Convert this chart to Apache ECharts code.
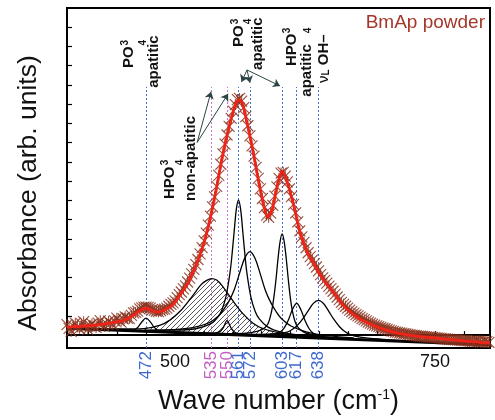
<!DOCTYPE html>
<html><head><meta charset="utf-8">
<script src="https://cdn.jsdelivr.net/npm/echarts@6/dist/echarts.min.js"></script>
<style>html,body{margin:0;padding:0;background:#fff}#c{width:495px;height:420px}</style>
</head><body><div id="c"></div>
<script>
// ---------------- data ----------------
const xTickValues = [416.67,444.44,472.22,500,527.78,555.56,583.33,611.11,638.89,666.67,694.44,722.22,750,777.78];
const xLabelValues = [500, 750];
const bandPositions = [472, 535, 550, 561, 572, 603, 617, 638];
const bandNonApatitic = [535, 550];
const yTickValues = [0,1,2,3,4,5,6,7,8,9,10,11,12,13,14,15,16];

// measured spectrum (wave number, absorbance)
const measured = [[396,0.55],[398,0.35],[400,0.20],[402,0.48],[404,0.62],[406,0.42],[408,0.35],[410,0.58],[412,0.70],[414,0.45],[416,0.30],[418,0.50],[420,0.58],[422,0.46],[424,0.40],[426,0.62],[428,0.75],[430,0.55],[432,0.45],[434,0.60],[436,0.72],[438,0.62],[440,0.55],[442,0.74],[444,0.88],[446,0.76],[448,0.68],[450,0.85],[452,0.95],[454,0.88],[456,0.86],[458,1.02],[460,1.15],[462,1.18],[464,1.25],[466,1.36],[468,1.42],[470,1.46],[472,1.45],[474,1.44],[476,1.40],[478,1.33],[480,1.28],[482,1.24],[484,1.22],[486,1.27],[488,1.33],[490,1.35],[492,1.40],[494,1.50],[496,1.60],[498,1.68],[500,1.78],[502,1.95],[504,2.10],[506,2.24],[508,2.40],[510,2.56],[512,2.76],[514,2.96],[516,3.18],[518,3.42],[520,3.66],[522,3.93],[524,4.22],[526,4.55],[528,4.90],[530,5.30],[532,5.72],[534,6.18],[536,6.66],[538,7.18],[540,7.73],[542,8.30],[544,8.88],[546,9.42],[548,9.92],[550,10.40],[552,10.85],[554,11.26],[556,11.64],[558,11.98],[560,12.24],[562,12.30],[564,12.16],[566,11.82],[568,11.36],[570,10.88],[572,10.36],[574,9.84],[576,9.30],[578,8.72],[580,8.14],[582,7.60],[584,7.10],[586,6.62],[588,6.24],[590,6.12],[592,6.34],[594,6.74],[596,7.22],[598,7.70],[600,8.14],[602,8.42],[604,8.46],[606,8.26],[608,7.96],[610,7.60],[612,7.20],[614,6.80],[616,6.35],[618,5.88],[620,5.42],[622,5.10],[624,4.82],[626,4.54],[628,4.28],[630,4.08],[632,3.90],[634,3.72],[636,3.54],[638,3.34],[640,3.14],[642,2.98],[644,2.84],[646,2.70],[648,2.55],[650,2.42],[652,2.28],[654,2.13],[656,1.98],[658,1.84],[660,1.70],[662,1.60],[664,1.50],[666,1.40],[668,1.30],[670,1.22],[672,1.14],[674,1.07],[676,1.00],[678,0.93],[680,0.86],[682,0.80],[684,0.74],[686,0.68],[688,0.62],[690,0.57],[692,0.52],[694,0.48],[696,0.44],[698,0.40],[700,0.36],[702,0.33],[704,0.30],[706,0.26],[708,0.22],[710,0.19],[712,0.16],[714,0.14],[716,0.12],[718,0.10],[720,0.08],[722,0.06],[724,0.04],[726,0.02],[728,0.00],[730,-0.02],[732,-0.03],[734,-0.05],[736,-0.06],[738,-0.07],[740,-0.08],[742,-0.09],[744,-0.10],[746,-0.11],[748,-0.12],[750,-0.13],[752,-0.14],[754,-0.16],[756,-0.17],[758,-0.19],[760,-0.20],[762,-0.21],[764,-0.22],[766,-0.23],[768,-0.24],[770,-0.25],[772,-0.25],[774,-0.26],[776,-0.27],[778,-0.28],[780,-0.29],[782,-0.30],[784,-0.31],[786,-0.32],[788,-0.33],[790,-0.30],[792,-0.32],[794,-0.37],[796,-0.36],[798,-0.31],[800,-0.34],[802,-0.38]];

const fitCurve = [[396,0.41],[410,0.46],[420,0.50],[430,0.56],[440,0.65],[450,0.77],[458,0.95],[464,1.19],[468,1.32],[472,1.39],[476,1.34],[480,1.21],[485,1.21],[490,1.32],[495,1.47],[500,1.73],[505,2.12],[510,2.48],[515,3.02],[520,3.61],[525,4.34],[530,5.21],[535,6.35],[540,7.69],[545,9.14],[550,10.37],[555,11.46],[559,12.10],[562,12.23],[565,12.00],[570,10.84],[575,9.55],[580,8.10],[585,6.81],[589,6.14],[593,6.45],[597,7.43],[600,8.10],[603,8.52],[607,8.10],[611,7.38],[615,6.55],[620,5.37],[627,4.34],[634,3.66],[640,3.10],[647,2.58],[653,2.17],[660,1.65],[667,1.26],[675,0.93],[682,0.72],[690,0.52],[700,0.31],[712,0.13],[725,0.00],[738,-0.09],[750,-0.15],[765,-0.24],[780,-0.31],[795,-0.39],[803,-0.41]];

const baseLine = [[396,0.36],[650,-0.18],[803,-0.50]];
const peak472 = [[440,0.28],[452,0.26],[460,0.27],[464,0.40],[468,0.68],[472,0.88],[476,0.70],[480,0.40],[484,0.23],[492,0.17],[510,0.13],[540,0.07]];
const peak535 = [[396,0.36],[420,0.34],[450,0.32],[470,0.34],[485,0.50],[495,0.78],[505,1.25],[515,1.91],[525,2.62],[530,2.83],[535,2.94],[540,2.86],[545,2.58],[555,1.83],[565,1.13],[575,0.62],[585,0.33],[600,0.12],[620,-0.03],[650,-0.18]];
const peak550 = [[530,0.08],[538,0.10],[543,0.18],[546,0.36],[548,0.58],[550,0.77],[552,0.58],[554,0.36],[557,0.16],[562,0.06],[575,-0.01]];
const peak561 = [[470,0.26],[500,0.26],[520,0.33],[535,0.61],[541,0.92],[545,1.31],[549,2.01],[553,3.31],[555,4.31],[557,5.48],[559,6.57],[561,7.02],[563,6.56],[565,5.46],[567,4.28],[569,3.27],[573,1.96],[577,1.24],[581,0.84],[589,0.43],[600,0.18],[620,0.00],[660,-0.15]];
const peak572 = [[477,0.25],[497,0.28],[517,0.39],[532,0.63],[542,1.01],[547,1.35],[552,1.78],[557,2.37],[562,3.21],[567,4.00],[572,4.34],[577,3.98],[582,3.17],[587,2.31],[592,1.70],[597,1.24],[602,0.88],[612,0.46],[627,0.16],[647,-0.03],[672,-0.15]];
const peak603 = [[540,0.09],[558,0.08],[573,0.13],[583,0.27],[589,0.55],[593,1.28],[595,1.95],[597,2.85],[599,3.95],[601,4.85],[603,5.26],[605,4.85],[607,3.95],[609,2.85],[611,1.90],[613,1.22],[617,0.50],[623,0.18],[633,0.00],[648,-0.11],[680,-0.22]];
const peak617 = [[577,0.01],[593,0.04],[601,0.16],[605,0.38],[609,0.79],[613,1.34],[617,1.65],[621,1.32],[625,0.76],[629,0.33],[633,0.09],[641,-0.07],[657,-0.16]];
const peak638 = [[548,0.07],[578,0.04],[598,0.07],[608,0.16],[613,0.30],[618,0.53],[623,0.86],[628,1.26],[633,1.65],[638,1.81],[643,1.63],[648,1.22],[653,0.80],[658,0.45],[663,0.20],[668,0.04],[678,-0.10],[698,-0.21],[728,-0.31]];

// ---------------- chart ----------------
const FONT = '"Liberation Sans", Arial, sans-serif';
const X_MIN = 396, X_MAX = 803, Y_MIN = -0.67, Y_MAX = 17;
const LINE_TOP = 12.9;

function makeHatch(){
  const c = document.createElement('canvas'); c.width = 5; c.height = 5;
  const g = c.getContext('2d');
  g.strokeStyle = '#2a2a2a'; g.lineWidth = 0.8;
  g.beginPath();
  g.moveTo(0,5); g.lineTo(5,0);
  g.moveTo(-1,1); g.lineTo(1,-1);
  g.moveTo(4,6); g.lineTo(6,4);
  g.stroke();
  return c;
}
const hatch = makeHatch();
const hatchedPeaks = [peak535, peak550];

const chart = echarts.init(document.getElementById('c'), null, {renderer:'canvas'});
const blue = '#4470d6', magenta = '#cf74cf';

const compSeries = [peak472, peak535, peak550, peak561, peak572, peak603, peak617, peak638].map(p => ({
  type:'line', data:p, smooth:0.35, symbol:'none', z:3,
  lineStyle:{color:'#000', width:1.3}, silent:true
}));

const option = {
  animation:false,
  textStyle:{fontFamily:FONT},
  title:{text:'BmAp powder', right:5, top:8,
    textStyle:{fontSize:19, fontWeight:'normal', color:'#a5372a', fontFamily:FONT}},
  grid:{left:67, right:5, top:8, bottom:70, show:true, borderColor:'#000', borderWidth:2},
  xAxis:[{
    type:'value', min:X_MIN, max:X_MAX, position:'bottom',
    axisLine:{show:true, lineStyle:{color:'#000', width:2}},
    axisTick:{show:true, inside:true, length:4, customValues:xTickValues, lineStyle:{color:'#000', width:1.2}},
    axisLabel:{show:true, customValues:xLabelValues, fontSize:18, color:'#111', margin:5, fontFamily:FONT},
    splitLine:{show:false},
    name:'{a|Wave number (cm}{s|-1}{a|)}', nameLocation:'middle', nameGap:40,
    nameTextStyle:{rich:{a:{fontSize:27, color:'#111', fontFamily:FONT}, s:{fontSize:14, color:'#111', verticalAlign:'top', fontFamily:FONT}}}
  },{
    type:'value', min:X_MIN, max:X_MAX, position:'bottom',
    axisLine:{show:false}, axisTick:{show:false}, splitLine:{show:false},
    axisLabel:{show:true, customValues:bandPositions, rotate:90, fontSize:17, margin:3, fontFamily:FONT,
      color:(v)=> bandNonApatitic.indexOf(Number(v))>=0 ? '#c45ec4' : '#3f68d0'}
  }],
  yAxis:{
    type:'value', min:Y_MIN, max:Y_MAX,
    axisLine:{show:true, lineStyle:{color:'#000', width:2}},
    axisTick:{show:true, inside:true, length:5, customValues:yTickValues, lineStyle:{color:'#000', width:1.2}},
    axisLabel:{show:false}, splitLine:{show:false},
    name:'Absorbance (arb. units)', nameLocation:'middle', nameGap:25, nameRotate:90,
    nameTextStyle:{fontSize:26.5, color:'#111', fontFamily:FONT, padding:[0,30,0,0]}
  },
  series:[
    {type:'custom', coordinateSystem:'cartesian2d', data:[[535,1],[550,1]], z:1, silent:true,
      renderItem:(params, api)=>{
        const pts = hatchedPeaks[params.dataIndex].map(p=>api.coord(p));
        return {type:'polygon', shape:{points:pts}, style:{fill:{image:hatch, repeat:'repeat'}, stroke:null}};
      }},
    {type:'line', data:baseLine, symbol:'none', z:4, silent:true,
      lineStyle:{color:'#000', width:3},
      markLine:{silent:true, symbol:['none','none'], label:{show:false}, z:0,
        data: bandPositions.map(b=>[
          {coord:[b, Y_MIN], lineStyle:{color: bandNonApatitic.indexOf(b)>=0 ? magenta : blue, type:[2,2], width:1}},
          {coord:[b, LINE_TOP]}
        ])}
    },
    ...compSeries,
    {type:'scatter', data:measured, z:5, silent:true, symbolSize:11, large:false,
      symbol:'path://M0,0L10,10M10,0L0,10M5,0L5,10',
      itemStyle:{color:'rgba(0,0,0,0)', borderColor:'#88321f', borderWidth:1.1, opacity:0.85}},
    {type:'line', data:fitCurve, smooth:0.3, symbol:'none', z:6, silent:true,
      lineStyle:{color:'#ee2418', width:2.8},
      markLine:{silent:true, symbol:['none','arrow'], symbolSize:7, label:{show:false},
        lineStyle:{color:'#2c4444', width:1, type:'solid'},
        data:[
          [{coord:[521.2,10.01]},{coord:[534.6,12.65]}],
          [{coord:[521.2,10.01]},{coord:[551.0,12.54]}],
          [{coord:[569.2,13.78]},{coord:[563.9,13.16]}],
          [{coord:[569.2,13.78]},{coord:[572.1,13.11]}],
          [{coord:[569.2,13.78]},{coord:[601.0,12.95]}]
        ]}
    }
  ]
};
chart.setOption(option);

// rotated annotation labels anchored in data coordinates (start of text, reading upward)
const notes = [
  {t:'PO', w:455.8, v:13.88, s:15, b:true},
  {t:'3', w:452.4, v:15.05, s:10, b:true},
  {t:'4', w:469.5, v:15.05, s:10, b:true},
  {t:'apatitic', w:479.8, v:12.85, s:15, b:true},
  {t:'HPO', w:495.2, v:7.07, s:15, b:true},
  {t:'3', w:490.4, v:8.83, s:10, b:true},
  {t:'4', w:505.0, v:8.83, s:10, b:true},
  {t:'non-apatitic', w:515.4, v:6.97, s:15, b:true},
  {t:'PO', w:561.5, v:14.97, s:15, b:true},
  {t:'3', w:557.7, v:16.15, s:10, b:true},
  {t:'4', w:570.5, v:16.15, s:10, b:true},
  {t:'apatitic', w:579.8, v:13.78, s:15, b:true},
  {t:'HPO', w:612.5, v:13.98, s:15, b:true},
  {t:'3', w:607.7, v:15.69, s:10, b:true},
  {t:'4', w:628.0, v:15.69, s:10, b:true},
  {t:'apatitic', w:626.9, v:12.39, s:15, b:true},
  {t:'{n|ν}{l|L}{o| OH–}', w:643.3, v:13.10, s:15, b:true, rich:true}
];
const graphics = notes.map(n=>{
  const p = chart.convertToPixel({gridIndex:0}, [n.w, n.v]);
  const style = {text:n.t, x:0, y:0, fontSize:n.s, fontWeight:n.b?'bold':'normal', fill:'#111',
    align:'left', verticalAlign:'middle', fontFamily:FONT};
  if (n.rich) {
    style.rich = {n:{fontSize:15, fontWeight:'normal', fill:'#111'}, l:{fontSize:10, fontWeight:'bold', verticalAlign:'bottom', fill:'#111'}, o:{fontSize:15, fontWeight:'bold', fill:'#111'}};
  }
  return {type:'text', x:p[0], y:p[1], rotation:Math.PI/2, silent:true, z:10, style};
});
chart.setOption({graphic:graphics});
</script>
</body></html>
